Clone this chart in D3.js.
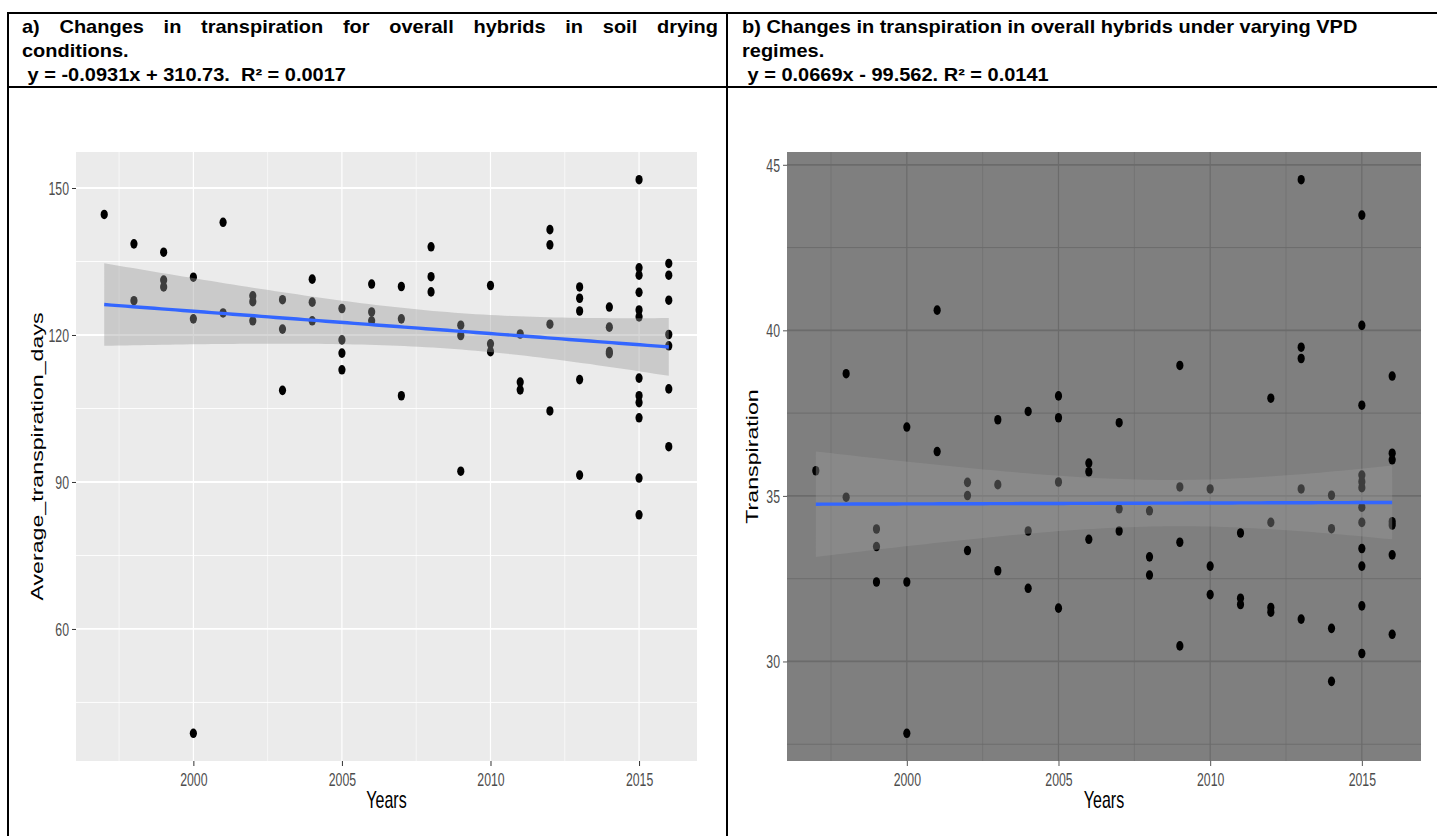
<!DOCTYPE html>
<html>
<head>
<meta charset="utf-8">
<script src="https://cdn.jsdelivr.net/npm/d3@7"></script>
<style>
  body { margin: 0; background: #fff; }
  svg { display: block; }
</style>
</head>
<body>
<svg id="chart" width="1437" height="836"></svg>
<script>
// header texts (one entry per line)
const headA = ['a) Changes in transpiration for overall hybrids in soil drying', 'conditions.', ' y = -0.0931x + 310.73.  R\u00b2 = 0.0017']
const headB = ['b) Changes in transpiration in overall hybrids under varying VPD', 'regimes.', ' y = 0.0669x - 99.562. R\u00b2 = 0.0141']

// panel a: soil drying, average transpiration days per year
const yearsA = [1997,
  1998, 1998,
  1999, 1999, 1999,
  2000, 2000, 2000,
  2001, 2001,
  2002, 2002, 2002,
  2003, 2003, 2003,
  2004, 2004, 2004,
  2005, 2005, 2005, 2005,
  2006, 2006, 2006,
  2007, 2007, 2007,
  2008, 2008, 2008,
  2009, 2009, 2009,
  2010, 2010, 2010,
  2011, 2011, 2011,
  2012, 2012, 2012, 2012,
  2013, 2013, 2013, 2013, 2013,
  2014, 2014, 2014, 2014,
  2015, 2015, 2015, 2015, 2015, 2015, 2015, 2015, 2015, 2015, 2015, 2015,
  2016, 2016, 2016, 2016, 2016, 2016, 2016]
const transpA = [144.6,
  138.6, 127.0,
  136.9, 131.2, 129.8,
  131.8, 123.3, 38.7,
  143.0, 124.5,
  128.0, 126.8, 122.9,
  127.2, 121.2, 108.7,
  131.4, 126.7, 122.9,
  125.4, 119.0, 116.3, 112.9,
  130.4, 124.7, 122.9,
  129.9, 123.3, 107.6,
  138.0, 131.9, 128.8,
  122.0, 119.9, 92.2,
  130.1, 118.2, 116.6,
  120.2, 110.4, 108.8,
  141.5, 138.4, 122.2, 104.5,
  129.8, 127.5, 124.9, 110.9, 91.4,
  125.7, 121.6, 116.6, 116.2,
  151.7, 133.7, 132.2, 128.7, 125.1, 123.7, 111.2, 107.6, 106.2, 103.1, 90.8, 83.3,
  134.6, 132.2, 127.1, 120.1, 117.8, 109.0, 97.2]

// panel b: VPD regimes, transpiration per year
const yearsB = [1997,
  1998, 1998,
  1999, 1999, 1999,
  2000, 2000, 2000,
  2001, 2001,
  2002, 2002, 2002,
  2003, 2003, 2003,
  2004, 2004, 2004,
  2005, 2005, 2005, 2005,
  2006, 2006, 2006,
  2007, 2007, 2007,
  2008, 2008, 2008,
  2009, 2009, 2009, 2009,
  2010, 2010, 2010,
  2011, 2011, 2011,
  2012, 2012, 2012, 2012,
  2013, 2013, 2013, 2013, 2013,
  2014, 2014, 2014, 2014,
  2015, 2015, 2015, 2015, 2015, 2015, 2015, 2015, 2015, 2015, 2015, 2015,
  2016, 2016, 2016, 2016, 2016, 2016, 2016]
const transpB = [35.76,
  38.69, 34.96,
  34.00, 33.47, 32.40,
  37.08, 32.40, 27.83,
  40.61, 36.34,
  35.41, 35.01, 33.35,
  37.30, 35.34, 32.74,
  37.55, 33.94, 32.21,
  38.02, 37.36, 35.42, 31.61,
  35.99, 35.73, 33.69,
  37.21, 34.61, 33.94,
  34.55, 33.16, 32.61,
  38.94, 35.27, 33.60, 30.47,
  35.21, 32.88, 32.02,
  33.88, 31.91, 31.72,
  37.95, 34.20, 31.63, 31.49,
  44.55, 39.49, 39.15, 35.21, 31.28,
  35.02, 34.01, 31.00, 29.40,
  43.48, 40.15, 37.74, 35.63, 35.43, 35.25, 34.66, 34.20, 33.41, 32.88, 31.68, 30.24,
  38.62, 36.29, 36.09, 34.22, 34.12, 33.22, 30.82]

const xTicks = [2000, 2005, 2010, 2015]
const yTicksA = [60, 90, 120, 150]
const yTicksB = [30, 35, 40, 45]

const svg = d3.select('#chart')
const FONT = '"Liberation Sans", Arial, Helvetica, sans-serif'
const SY = 1.45 // the plots were stretched vertically in the document

// ---- table frame + header ----
const frame = svg.append('g').attr('stroke', '#000').attr('stroke-width', 2)
frame.append('line').attr('x1', 7).attr('x2', 1437).attr('y1', 13).attr('y2', 13)
frame.append('line').attr('x1', 7).attr('x2', 1437).attr('y1', 87).attr('y2', 87)
frame.append('line').attr('x1', 8).attr('x2', 8).attr('y1', 12).attr('y2', 836)
frame.append('line').attr('x1', 727).attr('x2', 727).attr('y1', 12).attr('y2', 836)

function header(lines, x0, justifyTo) {
  const g = svg.append('g')
    .attr('font-family', FONT).attr('font-weight', 'bold').attr('font-size', 20)
  lines.forEach((txt, i) => {
    const t = g.append('text')
      .attr('transform', `translate(${x0},${33 + i * 24}) scale(1,0.9)`)
      .style('white-space', 'pre')
      .text(txt)
    // first line is justified in the document: stretch the word gaps only
    if (i === 0 && justifyTo) {
      const natural = t.node().getComputedTextLength()
      const gaps = txt.split(' ').length - 1
      t.attr('word-spacing', (justifyTo - x0 - natural) / gaps)
    }
  })
}
header(headA, 22, 718)
header(headB, 742, null)

// linear fit + 95% band, like geom_smooth(method = 'lm')
function smooth(xs, ys, nOut) {
  const n = xs.length
  const mx = d3.mean(xs), my = d3.mean(ys)
  let sxx = 0, sxy = 0
  for (let i = 0; i < n; i++) {
    sxx += (xs[i] - mx) ** 2
    sxy += (xs[i] - mx) * (ys[i] - my)
  }
  const b = sxy / sxx
  const a = my - b * mx
  let sse = 0
  for (let i = 0; i < n; i++) sse += (ys[i] - a - b * xs[i]) ** 2
  const s = Math.sqrt(sse / (n - 2))
  const tq = 1.993
  const [lo, hi] = d3.extent(xs)
  return d3.range(nOut).map(k => {
    const xv = lo + (hi - lo) * k / (nOut - 1)
    const fit = a + b * xv
    const se = s * Math.sqrt(1 / n + (xv - mx) ** 2 / sxx)
    return { x: xv, fit: fit, lower: fit - tq * se, upper: fit + tq * se }
  })
}

function expand(ext) {
  const d = (ext[1] - ext[0]) * 0.05
  return [ext[0] - d, ext[1] + d]
}

function drawPanel(cfg) {
  const g = svg.append('g')
  const x = d3.scaleLinear().domain(expand(d3.extent(cfg.years))).range([cfg.left, cfg.right])
  const y = d3.scaleLinear().domain(expand(d3.extent(cfg.values))).range([cfg.bottom, cfg.top])

  g.append('rect')
    .attr('x', cfg.left).attr('y', cfg.top)
    .attr('width', cfg.right - cfg.left).attr('height', cfg.bottom - cfg.top)
    .attr('fill', cfg.bg)

  // minor grid halfway between major ticks
  const minorX = d3.range(xTicks[0] - 2.5, xTicks[xTicks.length - 1] + 5, 5)
    .filter(v => v > x.domain()[0] && v < x.domain()[1])
  const stepY = cfg.yTicks[1] - cfg.yTicks[0]
  const minorY = d3.range(cfg.yTicks[0] - stepY / 2, cfg.yTicks[cfg.yTicks.length - 1] + stepY, stepY)
    .filter(v => v > y.domain()[0] && v < y.domain()[1])

  g.selectAll('.minor-x').data(minorX).join('line')
    .attr('x1', d => x(d)).attr('x2', d => x(d))
    .attr('y1', cfg.top).attr('y2', cfg.bottom)
    .attr('stroke', cfg.grid).attr('stroke-width', 0.6)
  g.selectAll('.minor-y').data(minorY).join('line')
    .attr('y1', d => y(d)).attr('y2', d => y(d))
    .attr('x1', cfg.left).attr('x2', cfg.right)
    .attr('stroke', cfg.grid).attr('stroke-width', 0.9)
  g.selectAll('.major-x').data(xTicks).join('line')
    .attr('x1', d => x(d)).attr('x2', d => x(d))
    .attr('y1', cfg.top).attr('y2', cfg.bottom)
    .attr('stroke', cfg.grid).attr('stroke-width', 1.2)
  g.selectAll('.major-y').data(cfg.yTicks).join('line')
    .attr('y1', d => y(d)).attr('y2', d => y(d))
    .attr('x1', cfg.left).attr('x2', cfg.right)
    .attr('stroke', cfg.grid).attr('stroke-width', 1.8)

  // points
  const pts = cfg.years.map((yr, i) => ({ yr: yr, v: cfg.values[i] }))
  g.selectAll('.pt').data(pts).join('ellipse')
    .attr('cx', d => x(d.yr)).attr('cy', d => y(d.v))
    .attr('rx', 3.6).attr('ry', 4.8)
    .attr('fill', '#000')

  // smooth
  const sm = smooth(cfg.years, cfg.values, 80)
  g.append('path')
    .datum(sm)
    .attr('d', d3.area().x(d => x(d.x)).y0(d => y(d.lower)).y1(d => y(d.upper)))
    .attr('fill', '#999999').attr('fill-opacity', 0.4)
  g.append('path')
    .datum(sm)
    .attr('d', d3.line().x(d => x(d.x)).y(d => y(d.fit)))
    .attr('fill', 'none').attr('stroke', '#3366FF').attr('stroke-width', 3.4)

  // axes
  const xAxis = g.append('g')
    .attr('transform', `translate(0,${cfg.bottom})`)
    .call(d3.axisBottom(x).tickValues(xTicks).tickSize(5).tickFormat(d3.format('d')))
  const yAxis = g.append('g')
    .attr('transform', `translate(${cfg.left},0)`)
    .call(d3.axisLeft(y).tickValues(cfg.yTicks).tickSize(4))
  ;[xAxis, yAxis].forEach(ax => {
    ax.select('.domain').remove()
    ax.attr('font-family', FONT).attr('font-size', 12.3)
    ax.selectAll('.tick line').attr('stroke', cfg.tick)
    ax.selectAll('.tick text').attr('fill', '#4d4d4d').attr('x', 0).attr('y', 0).attr('dy', null)
  })
  xAxis.selectAll('.tick text').attr('transform', `translate(0,24.5) scale(1,${SY})`)
  yAxis.selectAll('.tick text').attr('transform', `translate(-7,6.3) scale(1,${SY})`)

  // axis titles
  g.append('text')
    .attr('transform', `translate(${(cfg.left + cfg.right) / 2},808) scale(1,${SY})`)
    .attr('text-anchor', 'middle')
    .attr('font-family', FONT).attr('font-size', 16)
    .text('Years')
  g.append('text')
    .attr('transform', `translate(${cfg.ytitleX},${(cfg.top + cfg.bottom) / 2}) rotate(-90) scale(${SY},1)`)
    .attr('text-anchor', 'middle')
    .attr('font-family', FONT).attr('font-size', 16)
    .text(cfg.ytitle)
}

drawPanel({
  years: yearsA, values: transpA, yTicks: yTicksA,
  left: 76, right: 697, top: 152, bottom: 761,
  bg: '#ebebeb', grid: '#ffffff', tick: '#333333',
  ytitle: 'Average_transpiration_days', ytitleX: 43
})
drawPanel({
  years: yearsB, values: transpB, yTicks: yTicksB,
  left: 787, right: 1421, top: 152, bottom: 761,
  bg: '#7f7f7f', grid: '#6b6b6b', tick: '#555555',
  ytitle: 'Transpiration', ytitleX: 758
})
</script>
</body>
</html>
